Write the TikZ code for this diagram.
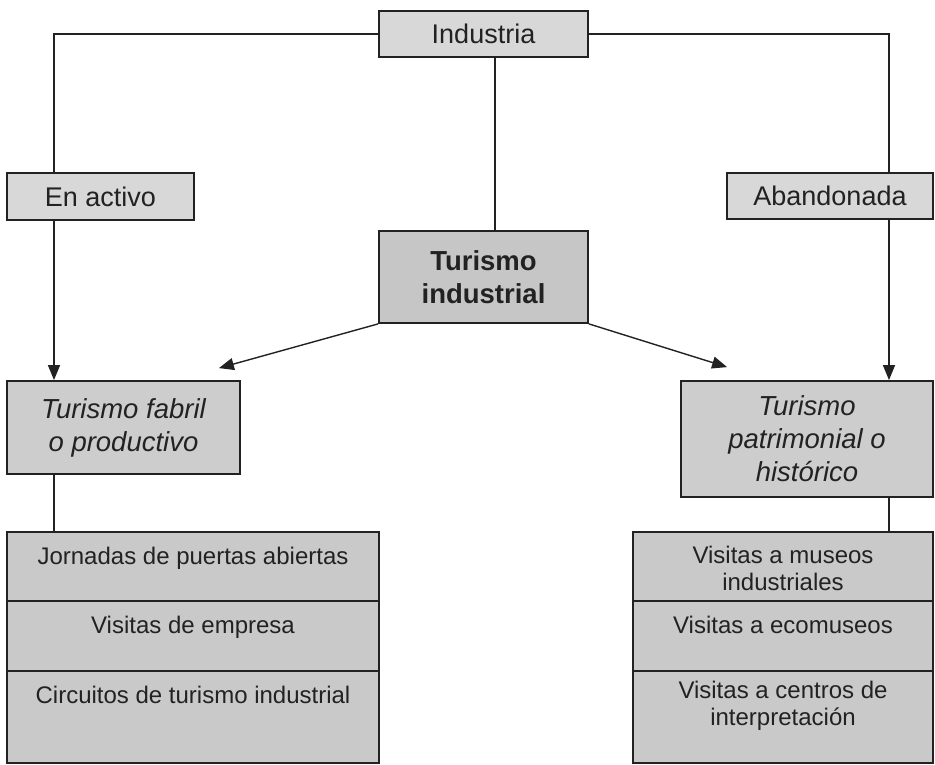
\documentclass[tikz,border=0pt]{standalone}
\usepackage{fontspec}
\setmainfont{Liberation Sans}
\usepackage{tikz}
\usetikzlibrary{arrows.meta,positioning,calc}
\definecolor{lightfill}{HTML}{D8D8D8}
\definecolor{mainfill}{HTML}{C6C6C6}
\definecolor{kindfill}{HTML}{CDCDCD}
\definecolor{rowfill}{HTML}{C9C9C9}
\definecolor{ink}{HTML}{222222}
\tikzset{
    link/.style={line width=1.4pt, draw=ink},
    arrowlink/.style={link, -{Triangle[length=15pt, width=12pt]}},
    box/.style={draw=ink, line width=1.8pt, fill=lightfill, text=ink, align=center, inner sep=0pt, font=\fontsize{27}{33}\selectfont},
    centrebox/.style={box, fill=mainfill, font=\fontsize{27.5}{33}\selectfont\bfseries},
    kindbox/.style={box, fill=kindfill, font=\fontsize{27.5}{33}\selectfont\itshape},
    rowbox/.style={box, fill=rowfill},
    rowtext/.style={anchor=north, yshift=-16pt, align=center, inner sep=0pt, text=ink, font=\fontsize{24}{27}\selectfont}
}

\begin{document}
\begin{tikzpicture}[x=1pt, y=-1pt]
    \useasboundingbox (0,0) rectangle (935,764);
    \coordinate (lspine) at (54,0);
    \coordinate (cspine) at (495,0);
    \coordinate (rspine) at (889,0);

    \node[box, minimum width=209, minimum height=46] (industria) at (483.5,34) {Industria};
    \node[box, minimum width=187, minimum height=47] (activo) at (100.5,196.5) {En activo};
    \node[box, minimum width=206, minimum height=46] (abandonada) at (830,196) {Abandonada};
    \node[centrebox, minimum width=209, minimum height=92] (turismo) at (483.5,277) {Turismo\\industrial};
    \node[kindbox, minimum width=233, minimum height=93] (fabril) at (123.5,427.5) {Turismo fabril\\o productivo};
    \node[kindbox, minimum width=252, minimum height=116] (patrimonial) at (807,439) {Turismo\\patrimonial o\\histórico};

    \node[rowbox, minimum width=372, minimum height=69, label={[rowtext]north:Jornadas de puertas abiertas}] (jornadas) at (193,566.5) {};
    \node[rowbox, minimum width=372, minimum height=70, label={[rowtext]north:Visitas de empresa}] (empresa) at (193,636) {};
    \node[rowbox, minimum width=372, minimum height=92, label={[rowtext]north:Circuitos de turismo industrial}] (circuitos) at (193,717) {};
    \node[rowbox, minimum width=300, minimum height=69, label={[rowtext, yshift=1pt]north:Visitas a museos\\industriales}] (museos) at (783,566.5) {};
    \node[rowbox, minimum width=300, minimum height=70, label={[rowtext]north:Visitas a ecomuseos}] (ecomuseos) at (783,636) {};
    \node[rowbox, minimum width=300, minimum height=92, label={[rowtext, yshift=5pt]north:Visitas a centros de\\interpretación}] (centros) at (783,717) {};

    \draw[link] (industria.west) -| (activo.north -| lspine);
    \draw[link] (industria.east) -| (abandonada.north -| rspine);
    \draw[link] (industria.south -| cspine) -- (turismo.north -| cspine);
    \draw[arrowlink] (activo.south -| lspine) -- (fabril.north -| lspine);
    \draw[arrowlink] (abandonada.south -| rspine) -- (patrimonial.north -| rspine);
    \draw[arrowlink] (turismo.south west) -- ($(fabril.north east)+(-22,-12)$);
    \draw[arrowlink] (turismo.south east) -- ($(patrimonial.north west)+(47,-13)$);
    \draw[link] (fabril.south -| lspine) -- (jornadas.north -| lspine);
    \draw[link] (patrimonial.south -| rspine) -- (museos.north -| rspine);
\end{tikzpicture}
\end{document}
